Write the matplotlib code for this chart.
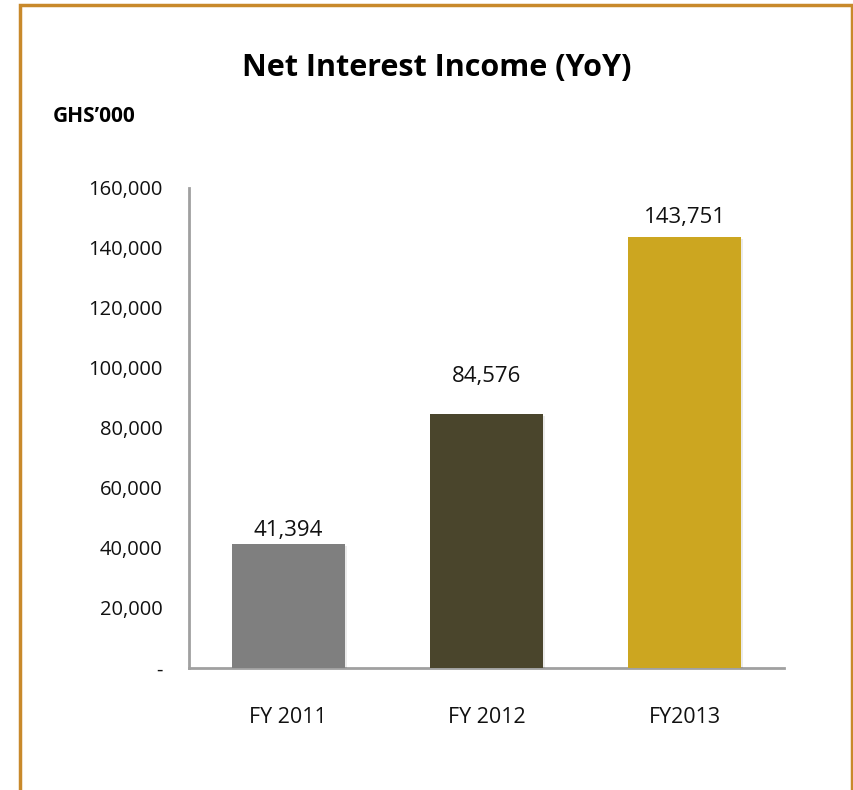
import matplotlib
matplotlib.use("Agg")
import matplotlib.pyplot as plt
import matplotlib.patheffects as pe
from matplotlib.patches import Rectangle
from matplotlib.ticker import FuncFormatter

# Net interest income, GHS'000
years = ["FY 2011", "FY 2012", "FY2013"]
income = [41394, 84576, 143751]
bar_colors = ["#7f7f7f", "#4a452c", "#cca620"]
label_offsets = [8, 32, 14]   # label baseline gap above bar, in px
y_ticks = [0, 20000, 40000, 60000, 80000, 100000, 120000, 140000, 160000]

font = ["Open Sans", "DejaVu Sans"]

fig = plt.figure(figsize=(8.54, 7.90), dpi=100)
ax = fig.add_axes([189/854, 1 - 668/790, (784 - 189)/854, (668 - 188)/790])

x = range(len(years))
bars = ax.bar(x, income, width=0.57, color=bar_colors, zorder=3)
for b in bars:
    b.set_path_effects([pe.SimplePatchShadow(offset=(1.5, -1.5), shadow_rgbFace="#000000", alpha=0.08),
                        pe.Normal()])

for xi, v, off in zip(x, income, label_offsets):
    ax.annotate(f"{v:,}", (xi, v), xytext=(0, off * 0.72), textcoords="offset points",
                ha="center", va="baseline", fontsize=16, family=font, color="#111111")

ax.set_xlim(-0.5, 2.5)
ax.set_ylim(0, 160000)
ax.set_yticks(y_ticks)
ax.yaxis.set_major_formatter(FuncFormatter(lambda v, p: "-" if v == 0 else f"{int(v):,}"))
ax.set_xticks(list(x))
ax.set_xticklabels(years)

for s in ["top", "right"]:
    ax.spines[s].set_visible(False)
for s in ["left", "bottom"]:
    ax.spines[s].set_color("#a0a0a0")
    ax.spines[s].set_linewidth(2)

ax.tick_params(axis="y", length=0, pad=19, labelsize=14.5)
ax.tick_params(axis="x", length=0, pad=28, labelsize=15.5)
for lab in ax.get_yticklabels() + ax.get_xticklabels():
    lab.set_family(font)
    lab.set_color("#111111")

fig.text(437/854, 1 - 68/790, "Net Interest Income (YoY)", ha="center", va="center",
         fontsize=22, fontweight="bold", family=font)
fig.text(53/854, 1 - 117/790, "GHS\u2019000", ha="left", va="center",
         fontsize=15, fontweight="bold", family=font)

# gold frame around the panel
fig.patches.append(Rectangle((20/854, -0.02), (852 - 20)/854, 1 - 5/790 + 0.02,
                             transform=fig.transFigure, fill=False,
                             edgecolor="#c8892b", linewidth=2.5))

fig.savefig("out.png", dpi=100)
